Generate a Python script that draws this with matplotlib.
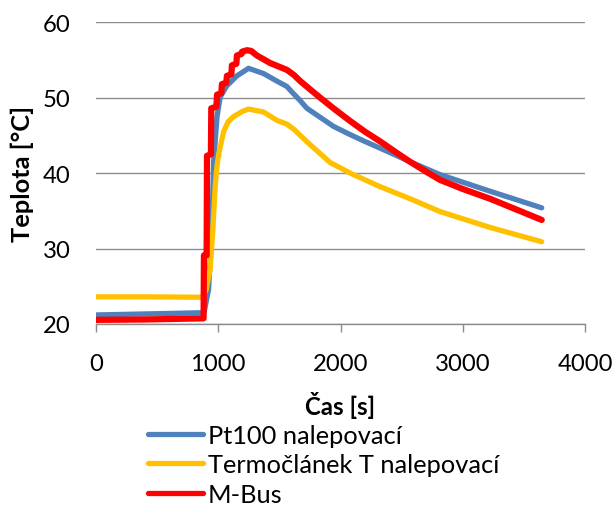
import matplotlib
matplotlib.use("Agg")
import matplotlib.pyplot as plt

plt.rcParams['font.family'] = ['Lato', 'DejaVu Sans']

# ---- data ----
t_pt100 = [0, 300, 600, 870, 885, 921, 948, 962, 990, 1016, 1071, 1153, 1248,
           1371, 1480, 1561, 1600, 1671, 1725, 1834, 1943, 2080, 2200, 2325,
           2450, 2570, 2700, 2815, 3224, 3646]
T_pt100 = [21.2, 21.3, 21.4, 21.5, 21.6, 24.6, 32.6, 41.4, 47.5, 50.1, 51.6,
           52.9, 53.9, 53.2, 52.2, 51.5, 50.8, 49.6, 48.6, 47.4, 46.2, 45.1,
           44.2, 43.3, 42.4, 41.5, 40.6, 39.8, 37.6, 35.4]

t_termo = [0, 400, 866, 900, 934, 956, 975, 990, 1003, 1044, 1080, 1125, 1200,
           1248, 1371, 1480, 1561, 1620, 1671, 1750, 1916, 2080, 2161, 2325,
           2570, 2815, 3224, 3646]
T_termo = [23.6, 23.6, 23.55, 24.5, 27.3, 32.6, 38.3, 41.0, 42.5, 45.5, 46.8,
           47.5, 48.2, 48.5, 48.1, 47.0, 46.5, 45.8, 45.0, 43.8, 41.4, 40.0,
           39.4, 38.2, 36.6, 34.9, 32.8, 30.9]

t_mbus = [0, 400, 880, 883, 905, 908, 940, 943, 985, 990, 1025, 1030, 1066,
          1071, 1107, 1112, 1148, 1153, 1190, 1194, 1235, 1270, 1316, 1425,
          1500, 1561, 1620, 1671, 1752, 1834, 1950, 2080, 2200, 2325, 2450,
          2570, 2700, 2815, 3000, 3224, 3646]
T_mbus = [20.55, 20.6, 20.75, 29.1, 29.1, 42.3, 42.5, 48.6, 48.8, 50.4, 50.6,
          51.8, 52.0, 52.9, 53.1, 54.3, 54.5, 55.6, 55.8, 56.1, 56.3, 56.2,
          55.6, 54.6, 54.1, 53.7, 53.0, 52.2, 51.1, 50.0, 48.5, 46.9, 45.5,
          44.2, 42.8, 41.5, 40.2, 39.1, 37.9, 36.6, 33.8]

labels = ["Pt100 nalepovací", "Termočlánek T nalepovací", "M-Bus"]
x_ticks = [0, 1000, 2000, 3000, 4000]
y_ticks = [20, 30, 40, 50, 60]

colors = ["#4F81BD", "#FFC000", "#FF0000"]
grid_col = "#8C8C8C"
fs_tick = 17.2
fs_leg = 18.3

fig = plt.figure(figsize=(6.14, 5.06), dpi=100)
ax = fig.add_axes([96/614, 1-325/506, (585-96)/614, (325-23.3)/506])

for t, T, c, lab, lw in zip([t_pt100, t_termo, t_mbus], [T_pt100, T_termo, T_mbus],
                            colors, labels, [3.8, 3.8, 4.5]):
    ax.plot(t, T, color=c, lw=lw, label=lab, solid_capstyle='round',
            solid_joinstyle='round', zorder=3)

ax.set_xlim(0, 4000)
ax.set_ylim(20, 60)
ax.set_xticks(x_ticks)
ax.set_yticks(y_ticks)
ax.set_xticklabels([str(v) for v in x_ticks])
ax.set_yticklabels([str(v) for v in y_ticks])

for s in ['top', 'right', 'left']:
    ax.spines[s].set_visible(False)
ax.spines['bottom'].set_color(grid_col)
ax.spines['bottom'].set_linewidth(1.0)
ax.spines['bottom'].set_zorder(1)

ax.yaxis.grid(True, color=grid_col, lw=1.0, zorder=0)
ax.set_axisbelow(True)
ax.tick_params(axis='y', length=0, pad=18.5, labelsize=fs_tick)
ax.tick_params(axis='x', length=6, width=1.0, color=grid_col, direction='out',
               pad=15, labelsize=fs_tick)

ax.set_xlabel("Čas [s]", fontsize=17.3, fontweight='bold', labelpad=12)
ax.set_ylabel("Teplota [°C]", fontsize=18.3, fontweight='bold', labelpad=6)

leg = fig.legend(loc='upper left', bbox_to_anchor=(148/614, 1-425/506),
                 frameon=False, fontsize=fs_leg, handlelength=2.15,
                 handletextpad=0.2, labelspacing=0.25, borderpad=0,
                 borderaxespad=0)
for h in leg.get_lines():
    h.set_linewidth(3.8)

fig.savefig("out.png", dpi=100)
